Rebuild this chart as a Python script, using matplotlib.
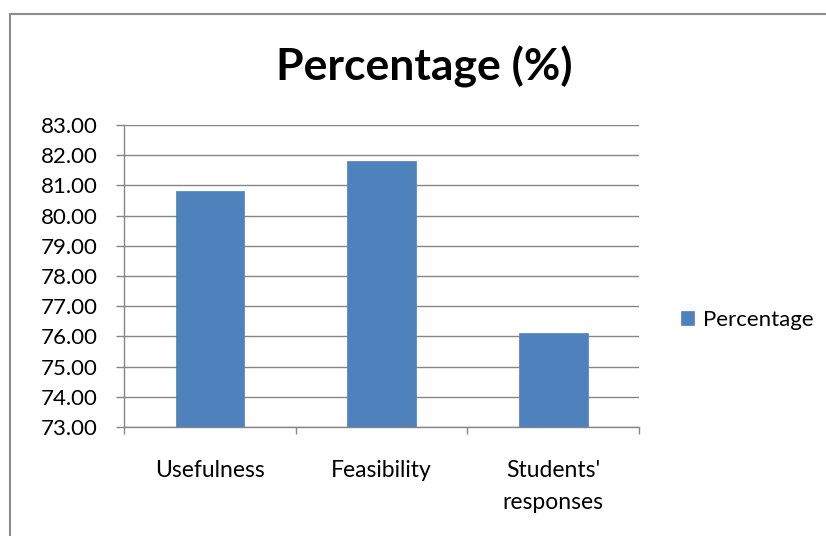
import matplotlib
matplotlib.use("Agg")
import matplotlib.pyplot as plt
from matplotlib.patches import Rectangle

# Chart data
categories = ["Usefulness", "Feasibility", "Students'\nresponses"]
percentages = [80.8, 81.8, 76.1]
y_ticks = [73, 74, 75, 76, 77, 78, 79, 80, 81, 82, 83]

W, H = 826, 536
BAR_BLUE = "#4f81bd"
GRID_GRAY = "#868686"

plt.rcParams["font.family"] = ["Lato", "DejaVu Sans"]

fig = plt.figure(figsize=(W / 100, H / 100), dpi=100)

# plot area in pixels: x 124..639, y 125..427
ax = fig.add_axes([124 / W, 1 - 427 / H, (639 - 124) / W, (427 - 125) / H])

x = range(len(categories))
ax.bar(x, percentages, width=0.4, color=BAR_BLUE, edgecolor=BAR_BLUE,
       linewidth=0.5, label="Percentage", zorder=3)

ax.set_xlim(-0.5, len(categories) - 0.5)
ax.set_ylim(y_ticks[0], y_ticks[-1])
ax.set_yticks(y_ticks)
ax.set_yticklabels([f"{v:.2f}" for v in y_ticks])
ax.yaxis.grid(True, color=GRID_GRAY, linewidth=1.0, zorder=0)
ax.set_axisbelow(True)

# category boundary ticks, labels on minor ticks at bar centres
ax.set_xticks([i - 0.5 for i in range(len(categories) + 1)])
ax.set_xticklabels([])
ax.set_xticks(list(x), minor=True)
ax.set_xticklabels(categories, minor=True, linespacing=1.6)
ax.tick_params(axis="x", which="major", length=5, width=1.0, color=GRID_GRAY, direction="out")
ax.tick_params(axis="x", which="minor", length=0, pad=24, labelsize=16.5)
ax.tick_params(axis="y", length=6, width=1.0, color=GRID_GRAY, direction="out",
               pad=13, labelsize=16)

for side in ["top", "right"]:
    ax.spines[side].set_visible(False)
for side in ["left", "bottom"]:
    ax.spines[side].set_color(GRID_GRAY)
    ax.spines[side].set_linewidth(1.0)

# title
fig.text(424 / W, 1 - 81 / H, "Percentage (%)", ha="center", va="baseline",
         fontsize=32, fontweight="bold")

# legend on the right
ax.legend(loc="center left", bbox_to_anchor=(681 / W, 1 - 320 / H),
          bbox_transform=fig.transFigure, frameon=False, fontsize=16,
          handlelength=0.58, handleheight=0.58, handletextpad=0.4,
          borderpad=0, borderaxespad=0)

# chart border (runs off the right and bottom edges)
fig.patches.append(Rectangle((9.5 / W, -0.1), 1.2, 1.1 - 14 / H,
                             transform=fig.transFigure, fill=False,
                             edgecolor="#8c8c8c", linewidth=1.5))

fig.savefig("out.png", dpi=100)
